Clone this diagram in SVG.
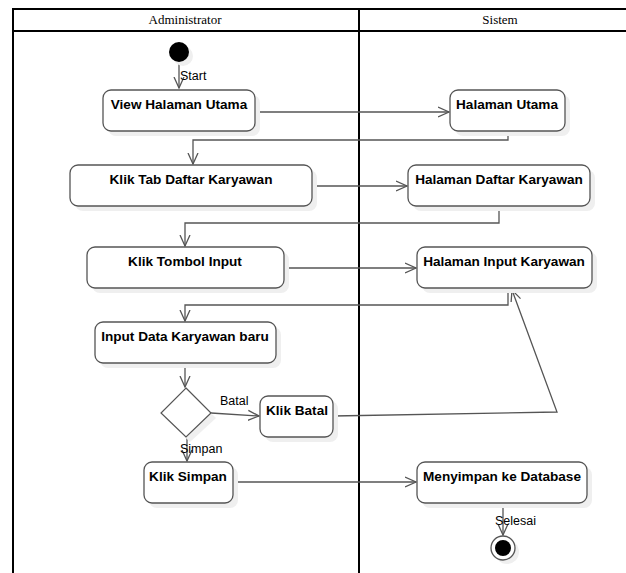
<svg xmlns="http://www.w3.org/2000/svg" width="626" height="573" viewBox="0 0 626 573">
  <style>
    .lane { fill: none; stroke: #000; stroke-width: 2; }
    .lane-title { font-family: "Liberation Serif", serif; font-size: 13px; fill: #000; text-anchor: middle; }
    .act { fill: #fff; stroke: #555; stroke-width: 1.3; }
    .shadow { fill: #efefef; stroke: none; }
    .label { font-family: "Liberation Sans", Arial, sans-serif; font-size: 13.6px; font-weight: bold; fill: #000; text-anchor: middle; }
    .flow { fill: none; stroke: #555; stroke-width: 1.3; marker-end: url(#open); }
    .guard { font-family: "Liberation Sans", Arial, sans-serif; font-size: 12.5px; fill: #000; }
  </style>
  <defs>
    <marker id="open" viewBox="0 0 12 12" refX="11" refY="6" markerWidth="12" markerHeight="12" markerUnits="userSpaceOnUse" orient="auto">
      <path d="M0,1 L11,6 L0,11" fill="none" stroke="#555" stroke-width="1.3"/>
    </marker>
  </defs>
  <rect width="626" height="573" fill="#fff"/>

  <!-- swimlanes -->
  <g id="lanes">
    <path class="lane" d="M626,9 H13 V573 M13,31 H626 M359,9 V573"/>
    <text class="lane-title" x="185" y="24">Administrator</text>
    <text class="lane-title" x="500" y="24">Sistem</text>
  </g>

  <!-- connectors -->
  <g id="connectors">
    <path class="flow" d="M179,62 V88"/>
    <path class="flow" d="M255,112 H449"/>
    <path class="flow" d="M508,131 V140 H193 V164"/>
    <path class="flow" d="M312,186 H407"/>
    <path class="flow" d="M499,206 V223 H185 V246"/>
    <path class="flow" d="M284,268 H416"/>
    <path class="flow" d="M508,288 V305 H185 V321"/>
    <path class="flow" d="M185,363 V387"/>
    <path class="flow" d="M211,413 L259,416"/>
    <path class="flow" d="M333,416 L557,412 L512,290"/>
    <path class="flow" d="M187,437 V461"/>
    <path class="flow" d="M233,482 H416"/>
    <path class="flow" d="M503,503 V535"/>
    <text class="guard" x="180" y="80">Start</text>
    <text class="guard" x="220" y="405">Batal</text>
    <text class="guard" x="180" y="453">Simpan</text>
    <text class="guard" x="495" y="525">Selesai</text>
  </g>

  <!-- initial node -->
  <g id="start">
    <circle class="shadow" cx="183" cy="56" r="10"/>
    <circle cx="179" cy="52" r="10" fill="#000"/>
  </g>

  <g id="view-halaman-utama">
    <rect class="shadow" x="108" y="95" width="152" height="41" rx="8"/>
    <rect class="act" x="103" y="90" width="152" height="41" rx="8"/>
    <text class="label" x="179" y="109">View Halaman Utama</text>
  </g>

  <g id="halaman-utama">
    <rect class="shadow" x="455" y="95" width="115" height="41" rx="8"/>
    <rect class="act" x="450" y="90" width="115" height="41" rx="8"/>
    <text class="label" x="507" y="109">Halaman Utama</text>
  </g>

  <g id="klik-tab-daftar-karyawan">
    <rect class="shadow" x="75" y="170" width="242" height="41" rx="8"/>
    <rect class="act" x="70" y="165" width="242" height="41" rx="8"/>
    <text class="label" x="191" y="184">Klik Tab Daftar Karyawan</text>
  </g>

  <g id="halaman-daftar-karyawan">
    <rect class="shadow" x="413" y="170" width="182" height="41" rx="8"/>
    <rect class="act" x="408" y="165" width="182" height="41" rx="8"/>
    <text class="label" x="499" y="184">Halaman Daftar Karyawan</text>
  </g>

  <g id="klik-tombol-input">
    <rect class="shadow" x="92" y="252" width="197" height="41" rx="8"/>
    <rect class="act" x="87" y="247" width="197" height="41" rx="8"/>
    <text class="label" x="185" y="266">Klik Tombol Input</text>
  </g>

  <g id="halaman-input-karyawan">
    <rect class="shadow" x="422" y="252" width="175" height="41" rx="8"/>
    <rect class="act" x="417" y="247" width="175" height="41" rx="8"/>
    <text class="label" x="504" y="266">Halaman Input Karyawan</text>
  </g>

  <g id="input-data-karyawan-baru">
    <rect class="shadow" x="100" y="327" width="181" height="41" rx="8"/>
    <rect class="act" x="95" y="322" width="181" height="41" rx="8"/>
    <text class="label" x="185" y="341">Input Data Karyawan baru</text>
  </g>

  <g id="decision">
    <path class="shadow" d="M190,393 L216,418 L190,442 L165,418 Z"/>
    <path d="M186,388 L211,413 L186,437 L161,413 Z" fill="#fff" stroke="#555" stroke-width="1.2"/>
  </g>

  <g id="klik-batal">
    <rect class="shadow" x="265" y="401" width="73" height="41" rx="8"/>
    <rect class="act" x="260" y="396" width="73" height="41" rx="8"/>
    <text class="label" x="297" y="415">Klik Batal</text>
  </g>

  <g id="klik-simpan">
    <rect class="shadow" x="149" y="467" width="89" height="41" rx="8"/>
    <rect class="act" x="144" y="462" width="89" height="41" rx="8"/>
    <text class="label" x="188" y="481">Klik Simpan</text>
  </g>

  <g id="menyimpan-ke-database">
    <rect class="shadow" x="422" y="467" width="170" height="41" rx="8"/>
    <rect class="act" x="417" y="462" width="170" height="41" rx="8"/>
    <text class="label" x="502" y="481">Menyimpan ke Database</text>
  </g>

  <!-- final node -->
  <g id="end">
    <circle class="shadow" cx="507" cy="552" r="12"/>
    <circle cx="503" cy="548" r="12" fill="#fff" stroke="#555" stroke-width="1.3"/>
    <circle cx="503" cy="548" r="8" fill="#000"/>
  </g>
</svg>
